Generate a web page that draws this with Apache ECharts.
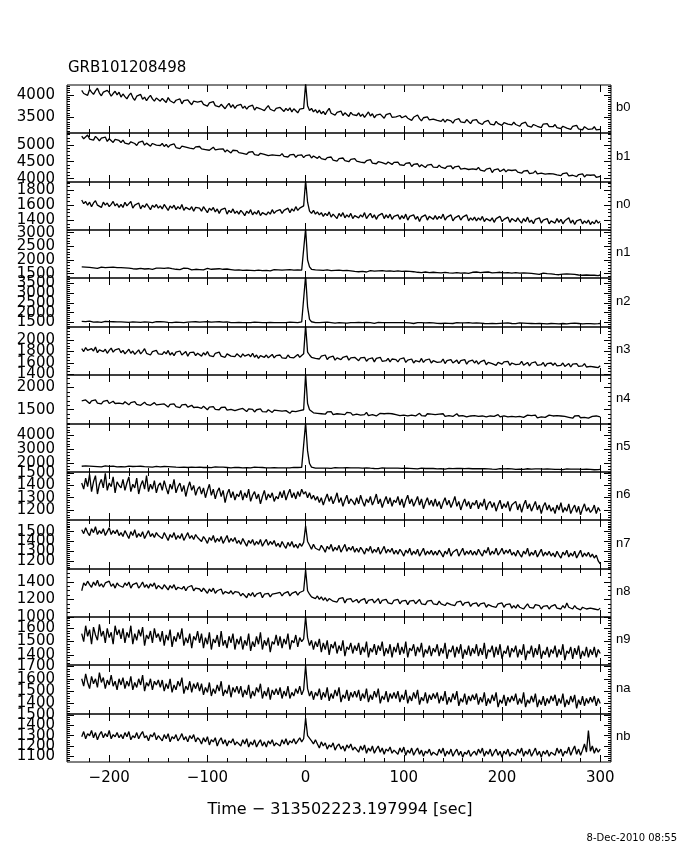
<!DOCTYPE html>
<html><head><meta charset="utf-8">
<script src="https://cdn.jsdelivr.net/npm/echarts@6/dist/echarts.min.js"></script>
<style>html,body{margin:0;padding:0;background:#fff}#c{width:680px;height:850px}</style>
</head><body><div id="c"></div>
<script>
// ---------------- DATA ----------------
const burstName = 'GRB101208498';
const xTitle = 'Time \u2212 313502223.197994 [sec]';
const dateStamp = '8-Dec-2010 08:55';
const detectorNames = ['b0','b1','n0','n1','n2','n3','n4','n5','n6','n7','n8','n9','na','nb'];
const xTickLabels = [-200,-100,0,100,200,300];

const times = [
-228,-226,-224,-222,-220,-218,-216,-214,-212,-210,-208,-206,-204,-202,-200,-198,-196,-194,-192,-190,
-188,-186,-184,-182,-180,-178,-176,-174,-172,-170,-168,-166,-164,-162,-160,-158,-156,-154,-152,-150,
-148,-146,-144,-142,-140,-138,-136,-134,-132,-130,-128,-126,-124,-122,-120,-118,-116,-114,-112,-110,
-108,-106,-104,-102,-100,-98,-96,-94,-92,-90,-88,-86,-84,-82,-80,-78,-76,-74,-72,-70,
-68,-66,-64,-62,-60,-58,-56,-54,-52,-50,-48,-46,-44,-42,-40,-38,-36,-34,-32,-30,
-28,-26,-24,-22,-20,-18,-16,-14,-12,-10,-8,-6,-4,-2,0,2,4,6,8,10,
12,14,16,18,20,22,24,26,28,30,32,34,36,38,40,42,44,46,48,50,
52,54,56,58,60,62,64,66,68,70,72,74,76,78,80,82,84,86,88,90,
92,94,96,98,100,102,104,106,108,110,112,114,116,118,120,122,124,126,128,130,
132,134,136,138,140,142,144,146,148,150,152,154,156,158,160,162,164,166,168,170,
172,174,176,178,180,182,184,186,188,190,192,194,196,198,200,202,204,206,208,210,
212,214,216,218,220,222,224,226,228,230,232,234,236,238,240,242,244,246,248,250,
252,254,256,258,260,262,264,266,268,270,272,274,276,278,280,282,284,286,288,290,
292,294,296,298,300];

const b0 = [
4100,4030,4070,3990,4120,4060,4010,4090,4150,4040,3980,4060,4020,4100,4050,3970,4030,4080,4000,4060,
3950,4020,3960,3910,3990,4040,3940,3880,3970,3930,4010,3900,3950,3870,3940,3990,3910,3860,3930,3900,
3860,3920,3880,3830,3940,3870,3900,3820,3880,3850,3910,3800,3870,3840,3890,3830,3780,3860,3900,3840,
3800,3860,3790,3830,3750,3820,3780,3850,3760,3800,3730,3790,3770,3690,3760,3810,3720,3780,3700,3760,
3730,3790,3700,3750,3680,3740,3710,3770,3660,3720,3750,3690,3730,3650,3710,3760,3680,3720,3640,3700,
3660,3720,3680,3630,3700,3650,3710,3620,3690,3660,3600,3680,3640,3700,4250,3760,3650,3700,3620,3670,
3600,3660,3580,3630,3560,3640,3700,3590,3620,3550,3610,3580,3640,3540,3600,3570,3520,3610,3560,3590,
3540,3600,3520,3570,3500,3560,3620,3530,3580,3490,3550,3510,3570,3530,3480,3560,3520,3590,3500,3540,
3510,3470,3540,3490,3450,3530,3480,3510,3430,3500,3460,3550,3470,3420,3490,3450,3510,3440,3480,3460,
3500,3430,3470,3410,3460,3390,3450,3480,3420,3370,3440,3410,3470,3400,3430,3380,3450,3420,3360,3430,
3400,3450,3380,3410,3340,3400,3370,3430,3350,3390,3330,3410,3360,3400,3320,3380,3420,3350,3370,3330,
3390,3340,3370,3300,3360,3330,3390,3310,3350,3280,3340,3370,3300,3330,3270,3350,3310,3360,3290,3320,
3290,3340,3270,3310,3250,3300,3330,3260,3290,3230,3300,3270,3320,3240,3280,3220,3290,3260,3230,3270,
3240,3290,3220,3260,3230];

const b1 = [
5260,5180,5230,5290,5170,5210,5140,5250,5190,5120,5200,5160,5230,5100,5180,5140,5070,5160,5110,5130,
5070,5140,5050,5100,5020,5090,5130,5040,4980,5070,5030,5110,4990,5050,5000,4960,5040,5080,4990,5020,
4980,5040,4950,5010,4930,4990,4960,5030,4920,4970,4890,4960,5010,4930,4970,4900,4950,4880,4940,4910,
4950,4880,4930,4860,4910,4840,4890,4930,4850,4800,4870,4830,4880,4790,4850,4810,4760,4840,4800,4830,
4770,4820,4750,4790,4720,4780,4740,4800,4710,4760,4690,4750,4790,4720,4740,4680,4730,4700,4750,4690,
4720,4680,4740,4660,4710,4640,4700,4670,4720,4630,4690,4650,4700,4620,4680,4650,4700,4610,4670,4640,
4600,4660,4590,4630,4560,4620,4580,4640,4550,4600,4520,4590,4560,4610,4530,4580,4500,4570,4540,4590,
4520,4570,4490,4540,4470,4530,4500,4560,4460,4510,4440,4500,4550,4470,4500,4430,4490,4460,4420,4480,
4440,4490,4410,4460,4390,4450,4400,4470,4360,4420,4380,4440,4350,4410,4370,4330,4400,4360,4420,4340,
4380,4330,4400,4340,4370,4300,4360,4320,4380,4290,4350,4310,4370,4280,4330,4300,4350,4270,4320,4290,
4310,4270,4330,4250,4300,4220,4280,4240,4310,4180,4260,4230,4290,4210,4250,4280,4200,4260,4220,4240,
4200,4260,4190,4230,4160,4220,4180,4240,4150,4200,4170,4230,4140,4190,4160,4210,4130,4180,4150,4200,
4140,4180,4110,4160,4090,4150,4120,4170,4080,4130,4100,4150,4060,4120,4090,4140,4050,4110,4080,4100,
4060,4110,4040,4090,4070];

const n0 = [
1670,1620,1650,1600,1640,1580,1630,1660,1600,1620,1570,1640,1600,1630,1580,1610,1650,1590,1620,1570,
1610,1570,1640,1590,1620,1650,1560,1600,1580,1630,1550,1600,1570,1620,1580,1540,1600,1570,1610,1560,
1590,1550,1610,1570,1530,1590,1560,1600,1540,1580,1550,1610,1530,1570,1590,1540,1580,1520,1570,1550,
1560,1520,1580,1540,1500,1560,1530,1570,1510,1550,1490,1540,1520,1560,1480,1530,1500,1550,1490,1520,
1480,1530,1500,1460,1520,1490,1540,1470,1510,1480,1530,1460,1500,1520,1470,1510,1480,1540,1490,1520,
1500,1540,1490,1530,1510,1560,1500,1550,1520,1580,1530,1560,1540,1590,1930,1640,1520,1490,1530,1480,
1510,1470,1500,1450,1490,1460,1510,1440,1480,1470,1420,1490,1450,1500,1430,1470,1440,1490,1420,1460,
1480,1430,1470,1440,1500,1420,1460,1490,1430,1470,1410,1460,1440,1490,1420,1470,1430,1480,1410,1450,
1430,1470,1410,1460,1420,1480,1400,1450,1430,1470,1410,1450,1380,1440,1420,1470,1400,1450,1430,1410,
1460,1410,1450,1420,1480,1400,1440,1430,1470,1390,1430,1410,1460,1400,1440,1420,1470,1390,1430,1400,
1440,1390,1430,1400,1450,1380,1420,1440,1390,1430,1370,1420,1400,1450,1380,1410,1390,1440,1370,1420,
1410,1380,1430,1390,1360,1420,1380,1440,1370,1400,1350,1410,1390,1430,1360,1400,1380,1420,1350,1390,
1400,1360,1420,1370,1410,1350,1390,1380,1430,1360,1400,1340,1390,1370,1410,1350,1390,1360,1400,1340,
1380,1350,1400,1360,1380];

const n1 = [
1750,1720,1740,1700,1730,1760,1710,1730,1690,1720,1740,1700,1720,1690,1730,1710,1740,1700,1720,1690,
1720,1690,1710,1680,1700,1730,1680,1700,1670,1710,1690,1720,1670,1700,1680,1710,1660,1690,1700,1670,
1700,1660,1690,1670,1710,1650,1680,1700,1660,1690,1650,1680,1700,1660,1690,1670,1640,1680,1660,1690,
1650,1680,1640,1670,1690,1650,1660,1630,1670,1650,1680,1630,1660,1640,1670,1620,1650,1670,1630,1650,
1640,1660,1620,1650,1630,1670,1620,1640,1610,1650,1630,1660,1610,1640,1620,1650,1600,1630,1650,1620,
1640,1610,1630,1600,1640,1620,1650,1610,1630,1600,1640,1620,1630,1660,3150,2000,1750,1660,1620,1640,
1600,1630,1590,1620,1600,1640,1590,1610,1580,1620,1600,1630,1580,1610,1590,1620,1570,1600,1610,1580,
1600,1570,1610,1580,1600,1560,1590,1610,1570,1590,1560,1600,1580,1610,1560,1590,1570,1600,1550,1580,
1570,1600,1560,1580,1550,1590,1560,1580,1540,1570,1590,1550,1570,1540,1580,1560,1590,1540,1560,1550,
1570,1540,1560,1530,1570,1550,1580,1530,1550,1520,1560,1540,1570,1520,1550,1530,1560,1510,1540,1550,
1530,1560,1520,1540,1510,1550,1530,1560,1510,1530,1500,1540,1520,1550,1500,1530,1510,1540,1500,1520,
1510,1540,1500,1520,1490,1530,1500,1520,1480,1510,1530,1490,1510,1470,1500,1520,1480,1500,1470,1490,
1500,1470,1490,1460,1500,1480,1450,1490,1460,1480,1440,1470,1490,1450,1470,1440,1480,1450,1470,1440,
1460,1440,1470,1430,1450];

const n2 = [
1550,1520,1540,1510,1560,1530,1510,1550,1520,1540,1500,1530,1550,1520,1540,1510,1530,1560,1520,1540,
1520,1550,1510,1530,1500,1540,1520,1560,1510,1530,1500,1540,1520,1550,1510,1530,1490,1520,1540,1510,
1530,1500,1520,1540,1500,1520,1490,1530,1510,1540,1500,1520,1490,1530,1510,1480,1520,1500,1530,1500,
1510,1490,1520,1500,1530,1490,1510,1480,1520,1500,1530,1490,1510,1480,1520,1500,1490,1520,1480,1510,
1500,1520,1480,1510,1490,1520,1480,1500,1510,1470,1500,1520,1480,1510,1490,1470,1500,1520,1490,1500,
1480,1510,1490,1520,1480,1500,1510,1470,1500,1520,1490,1510,1520,1560,3900,2300,1650,1530,1500,1480,
1510,1490,1470,1500,1480,1510,1470,1490,1500,1460,1490,1480,1510,1470,1490,1460,1500,1480,1470,1490,
1480,1500,1460,1490,1470,1500,1460,1480,1490,1450,1480,1500,1470,1490,1460,1480,1450,1490,1470,1480,
1470,1490,1450,1480,1460,1490,1450,1470,1480,1440,1470,1490,1460,1480,1450,1470,1440,1480,1460,1470,
1480,1450,1470,1440,1480,1460,1490,1450,1470,1440,1460,1480,1450,1470,1440,1470,1460,1480,1440,1460,
1450,1470,1440,1460,1480,1440,1460,1430,1470,1450,1460,1430,1470,1450,1440,1460,1430,1470,1450,1440,
1460,1430,1450,1470,1440,1460,1420,1450,1470,1440,1450,1430,1460,1440,1470,1430,1450,1420,1460,1440,
1450,1430,1460,1420,1450,1440,1460,1420,1440,1450,1430,1460,1420,1440,1450,1420,1450,1430,1460,1430,
1440,1420,1450,1430,1440];

const n3 = [
1850,1800,1870,1820,1790,1850,1810,1880,1780,1830,1860,1800,1840,1770,1820,1860,1790,1830,1800,1850,
1780,1820,1760,1800,1840,1770,1810,1750,1790,1830,1760,1800,1850,1770,1790,1740,1800,1780,1820,1760,
1790,1750,1800,1760,1820,1740,1780,1730,1790,1770,1810,1740,1760,1800,1720,1780,1750,1790,1730,1770,
1760,1720,1780,1740,1800,1730,1760,1710,1770,1740,1790,1720,1750,1700,1760,1780,1720,1750,1710,1760,
1740,1700,1760,1720,1690,1750,1710,1770,1700,1740,1680,1730,1760,1700,1740,1690,1720,1750,1690,1730,
1700,1740,1690,1720,1680,1740,1700,1730,1690,1710,1750,1700,1730,1760,2260,1790,1740,1700,1720,1680,
1710,1670,1720,1690,1740,1660,1700,1680,1720,1650,1690,1710,1660,1700,1670,1720,1650,1690,1660,1700,
1680,1640,1690,1660,1700,1630,1670,1650,1690,1620,1680,1650,1700,1630,1660,1640,1680,1620,1670,1650,
1660,1620,1670,1640,1690,1610,1650,1630,1670,1600,1640,1660,1620,1680,1610,1650,1630,1670,1600,1640,
1650,1610,1640,1620,1670,1590,1640,1610,1660,1600,1630,1650,1590,1640,1620,1660,1580,1630,1610,1650,
1600,1640,1580,1620,1600,1650,1570,1610,1630,1590,1620,1560,1610,1640,1580,1620,1590,1630,1560,1600,
1620,1570,1600,1580,1630,1560,1590,1610,1550,1600,1580,1620,1560,1590,1570,1610,1540,1590,1570,1600,
1560,1600,1550,1580,1560,1600,1540,1570,1590,1530,1580,1560,1590,1540,1570,1550,1590,1530,1560,1540,
1570,1530,1560,1520,1550];

const n4 = [
1700,1660,1720,1680,1640,1700,1670,1720,1650,1680,1630,1690,1660,1710,1640,1670,1690,1640,1680,1650,
1670,1630,1680,1640,1610,1660,1630,1680,1620,1650,1600,1640,1670,1620,1650,1600,1630,1660,1610,1640,
1620,1580,1630,1600,1560,1620,1590,1630,1570,1600,1550,1610,1580,1620,1560,1590,1600,1550,1580,1560,
1570,1530,1580,1540,1500,1560,1530,1570,1510,1540,1500,1550,1520,1560,1490,1530,1510,1550,1480,1520,
1510,1480,1530,1490,1460,1520,1480,1510,1450,1500,1470,1520,1460,1490,1450,1500,1470,1440,1490,1460,
1480,1440,1470,1430,1480,1450,1420,1470,1440,1460,1430,1480,1450,1500,2300,1640,1500,1460,1430,1470,
1420,1460,1410,1440,1400,1450,1420,1460,1390,1430,1410,1450,1400,1420,1390,1440,1410,1430,1380,1420,
1400,1430,1380,1420,1390,1440,1370,1410,1390,1430,1360,1400,1420,1380,1410,1370,1420,1390,1410,1370,
1390,1420,1370,1410,1380,1420,1360,1400,1380,1410,1360,1390,1420,1370,1400,1360,1410,1380,1400,1360,
1390,1360,1400,1370,1410,1350,1390,1370,1400,1350,1380,1410,1360,1390,1370,1400,1340,1380,1360,1390,
1370,1400,1350,1380,1360,1390,1340,1380,1360,1400,1350,1370,1390,1340,1380,1360,1390,1340,1370,1350,
1380,1340,1370,1350,1390,1330,1360,1380,1340,1370,1350,1380,1320,1360,1340,1370,1330,1360,1380,1340,
1360,1330,1370,1340,1360,1320,1350,1370,1330,1350,1310,1360,1340,1370,1320,1350,1330,1360,1310,1340,
1350,1320,1360,1330,1340];

const n5 = [
1810,1780,1830,1790,1820,1770,1800,1840,1780,1810,1760,1800,1830,1780,1800,1760,1820,1790,1770,1810,
1780,1810,1760,1790,1820,1760,1790,1750,1800,1770,1810,1750,1780,1800,1760,1790,1740,1780,1800,1760,
1770,1740,1790,1750,1780,1730,1770,1790,1740,1760,1730,1780,1750,1770,1720,1760,1740,1780,1730,1750,
1740,1770,1720,1750,1730,1770,1710,1740,1760,1720,1750,1710,1740,1760,1720,1740,1700,1750,1730,1740,
1720,1750,1700,1730,1710,1750,1690,1720,1740,1700,1730,1690,1720,1740,1700,1720,1690,1730,1710,1720,
1700,1730,1690,1720,1700,1740,1690,1710,1730,1690,1720,1700,1730,1760,4900,2900,2000,1750,1700,1680,
1710,1680,1700,1670,1720,1680,1700,1660,1690,1710,1670,1700,1660,1690,1680,1710,1660,1690,1670,1700,
1670,1690,1650,1680,1660,1700,1650,1670,1690,1650,1680,1640,1670,1690,1650,1670,1640,1680,1660,1670,
1650,1680,1640,1660,1640,1670,1630,1660,1680,1640,1650,1620,1660,1680,1640,1650,1620,1660,1640,1650,
1640,1620,1660,1630,1650,1610,1640,1660,1620,1640,1610,1650,1630,1650,1610,1640,1620,1650,1600,1630,
1620,1640,1600,1630,1610,1640,1600,1620,1640,1600,1630,1590,1620,1640,1600,1620,1590,1630,1610,1620,
1610,1590,1630,1600,1620,1580,1610,1630,1590,1610,1580,1620,1600,1620,1580,1600,1590,1620,1580,1600,
1600,1580,1610,1590,1610,1570,1600,1620,1580,1600,1570,1610,1590,1600,1570,1590,1580,1610,1570,1590,
1580,1560,1600,1570,1580];

const n6 = [
1420,1370,1460,1390,1490,1350,1430,1480,1330,1410,1450,1380,1500,1360,1420,1390,1470,1340,1430,1400,
1380,1450,1360,1420,1470,1350,1410,1380,1460,1330,1400,1440,1370,1480,1350,1410,1370,1440,1340,1400,
1420,1360,1440,1380,1330,1410,1370,1450,1340,1390,1420,1350,1400,1310,1380,1430,1360,1400,1320,1370,
1390,1330,1380,1300,1360,1410,1320,1370,1290,1350,1380,1310,1360,1260,1330,1370,1300,1350,1280,1330,
1310,1360,1280,1340,1300,1370,1270,1320,1350,1290,1330,1250,1310,1360,1280,1330,1300,1340,1270,1310,
1290,1350,1300,1360,1280,1330,1370,1300,1340,1290,1350,1310,1370,1330,1350,1300,1340,1290,1320,1280,
1310,1260,1300,1240,1290,1330,1270,1310,1250,1290,1340,1260,1300,1230,1280,1320,1250,1290,1270,1240,
1300,1250,1320,1270,1230,1290,1260,1310,1240,1280,1330,1250,1290,1220,1270,1310,1250,1300,1230,1280,
1260,1310,1240,1290,1220,1280,1320,1250,1290,1230,1270,1310,1240,1290,1210,1260,1300,1240,1280,1230,
1290,1230,1270,1210,1260,1300,1240,1280,1220,1260,1310,1230,1270,1200,1250,1290,1230,1270,1210,1260,
1240,1280,1210,1260,1230,1290,1200,1250,1270,1220,1260,1190,1240,1280,1210,1250,1220,1270,1190,1240,
1230,1270,1200,1250,1180,1240,1280,1210,1250,1190,1230,1270,1200,1240,1170,1230,1260,1200,1240,1190,
1220,1170,1240,1200,1260,1180,1220,1190,1250,1170,1210,1240,1180,1230,1160,1210,1250,1190,1220,1180,
1200,1240,1170,1220,1190];

const n7 = [
1520,1480,1540,1490,1460,1530,1490,1550,1470,1510,1480,1530,1460,1500,1540,1470,1510,1480,1520,1460,
1490,1450,1510,1470,1430,1500,1460,1520,1440,1480,1450,1500,1430,1470,1510,1450,1480,1440,1490,1460,
1470,1430,1490,1450,1410,1470,1440,1490,1420,1460,1430,1480,1410,1450,1490,1430,1460,1420,1470,1440,
1440,1400,1450,1420,1380,1440,1410,1460,1390,1430,1400,1450,1380,1420,1460,1390,1430,1400,1440,1380,
1410,1370,1430,1390,1350,1410,1380,1420,1360,1400,1370,1420,1350,1390,1420,1360,1400,1370,1410,1350,
1380,1340,1400,1360,1330,1390,1350,1400,1340,1370,1330,1380,1350,1390,1560,1400,1360,1320,1370,1330,
1350,1310,1360,1330,1290,1350,1320,1370,1300,1340,1310,1360,1290,1330,1370,1300,1340,1310,1350,1290,
1330,1290,1340,1310,1270,1330,1300,1350,1280,1320,1290,1340,1270,1310,1350,1280,1320,1290,1330,1270,
1310,1270,1320,1290,1250,1310,1280,1330,1260,1300,1270,1320,1250,1290,1330,1260,1300,1270,1310,1260,
1300,1260,1310,1280,1240,1300,1270,1330,1250,1290,1270,1320,1250,1290,1330,1260,1300,1270,1310,1260,
1300,1260,1320,1280,1250,1310,1280,1340,1260,1300,1270,1330,1260,1290,1330,1270,1310,1280,1320,1260,
1290,1250,1310,1270,1240,1300,1270,1330,1250,1290,1260,1310,1240,1280,1320,1250,1290,1260,1300,1250,
1280,1240,1300,1260,1230,1290,1260,1310,1240,1280,1250,1300,1230,1270,1310,1240,1280,1250,1290,1240,
1270,1230,1260,1200,1170];

const n8 = [
1300,1390,1360,1410,1370,1340,1400,1360,1420,1350,1380,1340,1390,1370,1410,1350,1380,1330,1390,1360,
1380,1340,1390,1360,1400,1330,1370,1350,1390,1330,1360,1400,1340,1370,1330,1380,1350,1390,1320,1360,
1350,1320,1370,1340,1310,1360,1330,1370,1310,1340,1360,1320,1350,1300,1340,1320,1360,1300,1330,1310,
1320,1290,1330,1300,1270,1320,1290,1330,1270,1300,1280,1320,1260,1290,1310,1270,1300,1260,1290,1270,
1280,1240,1270,1250,1220,1270,1240,1280,1230,1260,1240,1280,1220,1260,1240,1270,1230,1260,1240,1270,
1250,1280,1240,1270,1250,1290,1240,1270,1260,1290,1250,1280,1270,1300,1540,1300,1260,1230,1250,1210,
1240,1200,1230,1190,1220,1180,1210,1230,1180,1200,1170,1210,1190,1220,1160,1200,1180,1210,1170,1190,
1200,1160,1190,1170,1210,1150,1190,1170,1200,1160,1180,1210,1150,1190,1170,1200,1160,1180,1150,1190,
1170,1200,1150,1180,1160,1190,1140,1180,1160,1190,1150,1170,1200,1150,1170,1140,1180,1160,1190,1150,
1170,1140,1180,1150,1170,1130,1160,1180,1140,1160,1130,1170,1150,1180,1130,1160,1140,1170,1120,1150,
1140,1160,1120,1150,1130,1160,1110,1140,1160,1120,1140,1110,1150,1130,1160,1110,1140,1120,1150,1100,
1130,1100,1140,1110,1130,1090,1120,1150,1110,1130,1100,1140,1120,1130,1090,1120,1100,1130,1090,1120,
1110,1140,1100,1120,1090,1130,1100,1160,1110,1120,1090,1130,1100,1120,1080,1110,1130,1090,1110,1100,
1120,1090,1110,1080,1100];

const n9 = [
1560,1500,1620,1540,1590,1480,1610,1550,1510,1630,1540,1580,1490,1600,1530,1570,1480,1620,1550,1590,
1520,1600,1490,1570,1530,1620,1480,1560,1510,1590,1540,1610,1470,1550,1520,1580,1490,1600,1530,1560,
1500,1580,1470,1550,1510,1590,1460,1540,1500,1570,1520,1600,1470,1530,1490,1560,1450,1540,1510,1580,
1490,1560,1450,1530,1480,1570,1440,1520,1490,1550,1460,1580,1470,1510,1450,1540,1490,1560,1440,1520,
1480,1540,1440,1510,1470,1560,1430,1500,1460,1540,1480,1570,1440,1510,1470,1530,1420,1500,1480,1550,
1470,1540,1450,1520,1480,1560,1440,1510,1490,1550,1460,1530,1500,1520,1690,1530,1470,1510,1440,1500,
1460,1520,1420,1490,1440,1510,1400,1480,1450,1500,1410,1470,1430,1510,1390,1460,1440,1490,1410,1470,
1430,1490,1400,1460,1420,1500,1380,1450,1420,1480,1400,1470,1430,1500,1390,1450,1410,1480,1380,1460,
1420,1490,1400,1460,1410,1500,1380,1450,1430,1480,1390,1460,1420,1490,1380,1440,1410,1470,1390,1450,
1420,1480,1390,1450,1410,1490,1370,1440,1420,1470,1380,1460,1410,1480,1370,1440,1400,1470,1390,1450,
1410,1480,1390,1450,1400,1490,1370,1440,1420,1470,1380,1460,1400,1480,1370,1430,1410,1470,1380,1450,
1420,1470,1380,1440,1400,1480,1360,1430,1410,1470,1380,1450,1400,1480,1370,1430,1400,1460,1380,1440,
1410,1470,1380,1440,1400,1480,1360,1430,1410,1460,1370,1450,1400,1470,1370,1430,1390,1460,1380,1440,
1400,1460,1380,1440,1410];

const na = [
1600,1540,1640,1570,1520,1620,1560,1600,1530,1650,1570,1610,1520,1590,1550,1630,1540,1580,1510,1600,
1550,1610,1520,1580,1540,1620,1510,1570,1530,1600,1550,1630,1500,1570,1540,1600,1510,1580,1550,1590,
1530,1590,1500,1560,1520,1600,1490,1550,1510,1580,1540,1610,1480,1540,1510,1580,1490,1560,1520,1570,
1500,1560,1470,1530,1490,1570,1460,1520,1480,1550,1500,1580,1460,1510,1480,1550,1450,1530,1490,1540,
1480,1540,1450,1510,1470,1550,1440,1500,1460,1530,1490,1560,1440,1500,1460,1530,1430,1510,1470,1520,
1470,1530,1440,1500,1460,1540,1440,1490,1460,1520,1480,1540,1470,1510,1710,1520,1460,1500,1430,1490,
1460,1520,1430,1490,1450,1530,1420,1480,1440,1510,1460,1530,1410,1470,1440,1510,1420,1490,1450,1500,
1450,1510,1420,1480,1440,1520,1410,1470,1430,1500,1450,1520,1400,1460,1430,1500,1410,1480,1440,1490,
1440,1500,1410,1470,1430,1510,1400,1460,1420,1490,1440,1510,1390,1450,1420,1490,1400,1470,1430,1480,
1440,1490,1400,1460,1420,1500,1390,1450,1410,1480,1430,1500,1380,1440,1410,1480,1390,1460,1420,1470,
1430,1480,1390,1450,1410,1490,1380,1440,1400,1470,1420,1490,1370,1430,1400,1470,1380,1450,1410,1460,
1420,1480,1390,1440,1400,1490,1370,1430,1400,1460,1410,1480,1370,1430,1390,1460,1380,1440,1400,1460,
1420,1470,1380,1440,1400,1480,1370,1430,1390,1460,1410,1470,1360,1430,1390,1460,1380,1440,1400,1450,
1410,1460,1380,1440,1400];

const nb = [
1290,1340,1270,1320,1300,1350,1280,1330,1260,1310,1340,1280,1320,1290,1350,1270,1310,1290,1330,1280,
1310,1270,1330,1290,1340,1260,1300,1280,1330,1270,1310,1340,1280,1300,1250,1310,1290,1330,1260,1300,
1290,1250,1310,1270,1320,1240,1290,1270,1310,1250,1280,1320,1260,1290,1240,1300,1270,1310,1240,1280,
1260,1220,1280,1240,1290,1210,1260,1240,1280,1200,1250,1280,1220,1260,1200,1250,1230,1270,1210,1240,
1230,1200,1260,1220,1270,1190,1240,1210,1260,1190,1230,1260,1200,1240,1190,1250,1220,1260,1200,1230,
1240,1200,1260,1220,1270,1210,1250,1230,1270,1220,1250,1280,1240,1270,1470,1300,1290,1250,1220,1260,
1220,1180,1240,1200,1230,1170,1210,1190,1230,1160,1200,1220,1170,1200,1150,1210,1180,1220,1160,1190,
1180,1140,1200,1160,1210,1130,1180,1150,1200,1130,1170,1200,1140,1180,1120,1170,1150,1190,1130,1160,
1160,1120,1180,1140,1190,1110,1160,1130,1180,1110,1150,1180,1120,1160,1100,1150,1130,1170,1110,1140,
1150,1110,1170,1130,1180,1100,1150,1120,1170,1100,1140,1170,1110,1150,1090,1140,1120,1160,1100,1130,
1150,1110,1170,1130,1180,1100,1150,1120,1170,1100,1140,1170,1110,1150,1090,1150,1120,1170,1100,1140,
1150,1110,1170,1130,1180,1100,1150,1120,1170,1100,1140,1180,1110,1150,1090,1150,1120,1160,1100,1140,
1150,1110,1180,1130,1170,1100,1150,1130,1190,1110,1160,1200,1120,1170,1110,1160,1220,1140,1350,1150,
1200,1130,1180,1140,1170];

const yMin = [3150,3900,1267,1340,1260,1390,1180,1400,1118,1118,998,1323,1314,1045];
const yMax = [4220,5350,1911,3100,3780,2230,2280,4810,1510,1619,1550,1686,1712,1510];
const yTickLabels = [[3500,4000],[4000,4500,5000],[1400,1600,1800],[1500,2000,2500,3000],
  [1500,2000,2500,3000,3500],[1400,1600,1800,2000],[1500,2000],[2000,3000,4000],
  [1200,1300,1400,1500],[1200,1300,1400,1500],[1000,1200,1400],[1400,1500,1600],
  [1400,1500,1600,1700],[1100,1200,1300,1400,1500]];
const yMinorStep = [50,100,50,100,100,50,100,200,20,20,50,20,20,20];

// ---------------- CHART ----------------
const seriesValues = [b0,b1,n0,n1,n2,n3,n4,n5,n6,n7,n8,n9,na,nb];
const FONT = 'DejaVu Sans';
const X_MIN = -243, X_MAX = 311;
const GL = 67, GW = 544, TOP0 = 85, BOT = 762, NP = 14;

function steps(min, max, step) {
  const a = [];
  for (let v = Math.ceil(min / step) * step; v <= max + 1e-9; v += step) a.push(v);
  return a;
}
const xMinor = steps(-220, 300, 20);
const fmtX = v => v < 0 ? '\u2212' + (-v) : String(v);
const tickStyle = {color: '#000', width: 1};
const yLabelStyle = {margin: 12, formatter: v => String(v), showMinLabel: true, showMaxLabel: true,
  hideOverlap: false, fontFamily: FONT, fontSize: 15, color: '#000'};

const grids = [], xAxes = [], yAxes = [], ser = [], graphics = [];
for (let i = 0; i < NP; i++) {
  const t = Math.round(TOP0 + i * (BOT - TOP0) / NP);
  const b = Math.round(TOP0 + (i + 1) * (BOT - TOP0) / NP);
  grids.push({left: GL, width: GW, top: t, height: b - t, show: true,
    borderColor: '#000', borderWidth: 1, backgroundColor: 'transparent', containLabel: false});
  const xBase = {type: 'value', gridIndex: i, min: X_MIN, max: X_MAX,
    axisLine: {show: false, onZero: false}, splitLine: {show: false}};
  const isLast = i === NP - 1;
  xAxes.push(Object.assign({}, xBase, {position: 'bottom',
    axisTick: {show: true, inside: true, length: 7, customValues: xTickLabels, lineStyle: tickStyle},
    axisLabel: {show: isLast, customValues: xTickLabels, formatter: fmtX, margin: 9,
      showMinLabel: true, showMaxLabel: true,
      fontFamily: FONT, fontSize: 15, color: '#000'}}));
  xAxes.push(Object.assign({}, xBase, {position: 'bottom',
    axisTick: {show: true, inside: true, length: 4, customValues: xMinor, lineStyle: tickStyle},
    axisLabel: {show: false}}));
  xAxes.push(Object.assign({}, xBase, {position: 'top',
    axisTick: {show: true, inside: true, length: 7, customValues: xTickLabels, lineStyle: tickStyle},
    axisLabel: {show: false}}));
  xAxes.push(Object.assign({}, xBase, {position: 'top',
    axisTick: {show: true, inside: true, length: 4, customValues: xMinor, lineStyle: tickStyle},
    axisLabel: {show: false}}));

  const minor = steps(yMin[i], yMax[i], yMinorStep[i]);
  // labels split over two axes so that neighbouring (overlapping) labels are not dropped
  const labA = yTickLabels[i].filter((v, k) => k % 2 === 0);
  const labB = yTickLabels[i].filter((v, k) => k % 2 === 1);
  const yBase = {type: 'value', gridIndex: i, min: yMin[i], max: yMax[i],
    axisLine: {show: false, onZero: false}, splitLine: {show: false}};
  yAxes.push(Object.assign({}, yBase, {position: 'left',
    axisTick: {show: true, inside: true, length: 7, customValues: yTickLabels[i], lineStyle: tickStyle},
    axisLabel: Object.assign({show: true, customValues: labA}, yLabelStyle)}));
  yAxes.push(Object.assign({}, yBase, {position: 'left',
    axisTick: {show: true, inside: true, length: 3, customValues: minor, lineStyle: tickStyle},
    axisLabel: Object.assign({show: labB.length > 0, customValues: labB.length ? labB : [yTickLabels[i][0]]}, yLabelStyle)}));
  yAxes.push(Object.assign({}, yBase, {position: 'right',
    axisTick: {show: true, inside: true, length: 7, customValues: yTickLabels[i], lineStyle: tickStyle},
    axisLabel: {show: false}}));
  yAxes.push(Object.assign({}, yBase, {position: 'right',
    axisTick: {show: true, inside: true, length: 3, customValues: minor, lineStyle: tickStyle},
    axisLabel: {show: false}}));

  const vals = seriesValues[i];
  ser.push({type: 'line', xAxisIndex: 4 * i, yAxisIndex: 4 * i,
    data: times.map((tt, k) => [tt, vals[k]]),
    showSymbol: false, symbol: 'none', clip: true, silent: true,
    lineStyle: {color: '#000', width: 1.3}});

  graphics.push({type: 'text', left: 616, top: (t + b) / 2 - 8,
    style: {text: detectorNames[i], fontFamily: 'Liberation Sans', fontSize: 13, fill: '#000'}});
}

graphics.push({type: 'text', left: 68, top: 61,
  style: {text: burstName, fontFamily: FONT, fontSize: 15, fill: '#000'}});
graphics.push({type: 'text', left: 'center', top: 802,
  style: {text: xTitle, fontFamily: FONT, fontSize: 16, fill: '#000'}});
graphics.push({type: 'text', right: 3, top: 833,
  style: {text: dateStamp, fontFamily: FONT, fontSize: 10, fill: '#000'}});

const chart = echarts.init(document.getElementById('c'), null, {renderer: 'canvas'});
chart.setOption({
  animation: false,
  backgroundColor: '#fff',
  grid: grids, xAxis: xAxes, yAxis: yAxes, series: ser, graphic: graphics
});
</script></body></html>
